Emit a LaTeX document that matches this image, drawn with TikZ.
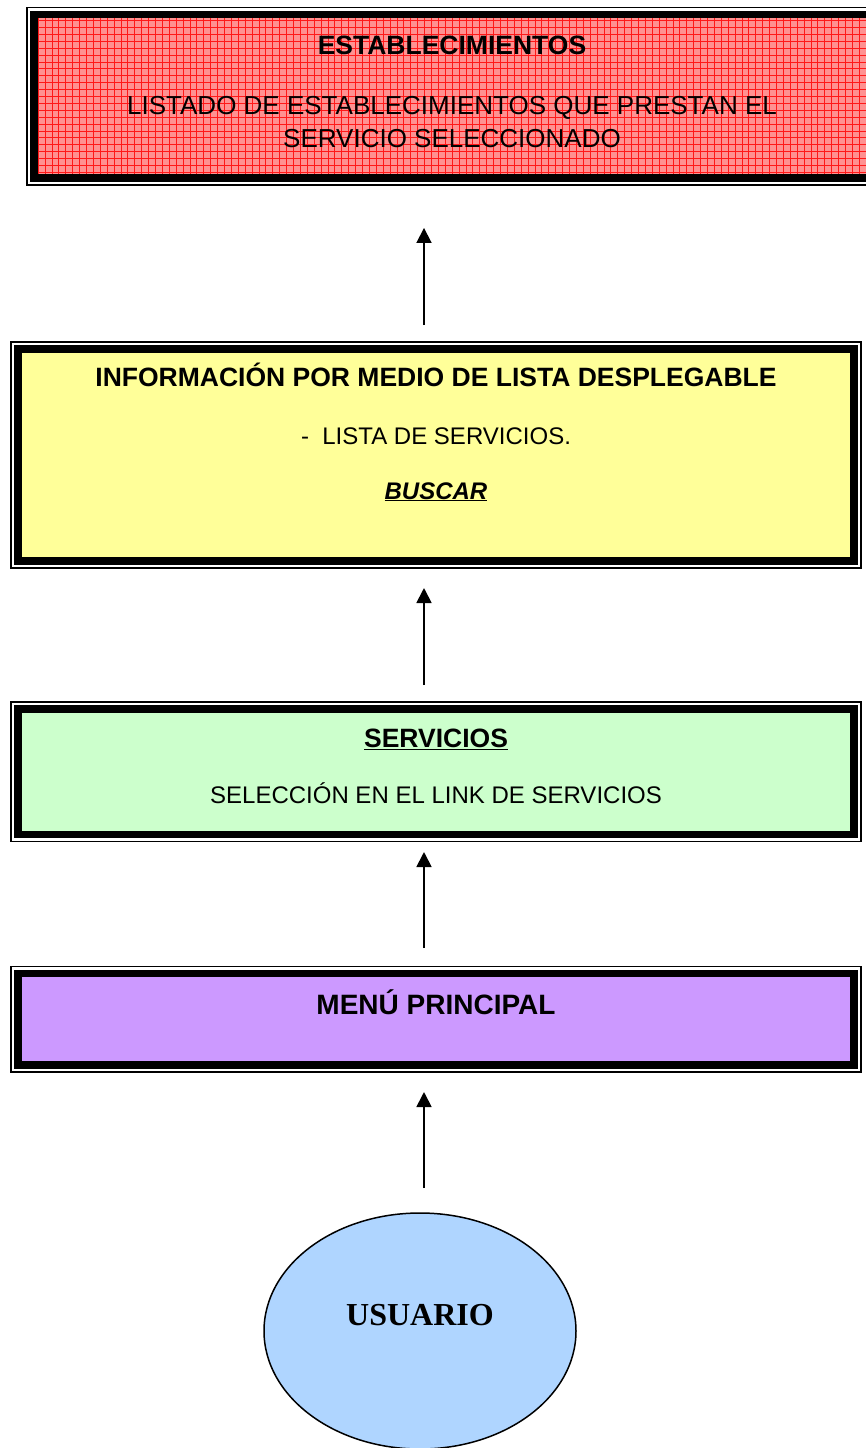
\documentclass[tikz,border=0pt]{standalone}
\usepackage{fontspec}
\setmainfont{Liberation Sans}
\newfontfamily\timesfont{Liberation Serif}
\usetikzlibrary{positioning,arrows.meta,shapes.geometric}
\definecolor{rojo}{RGB}{255,145,145}
\definecolor{amarillo}{RGB}{255,255,153}
\definecolor{verde}{RGB}{204,255,204}
\definecolor{lila}{RGB}{204,153,255}
\definecolor{celeste}{RGB}{175,213,255}
\tikzset{x=1pt, y=-1pt,
  caja/.style={draw, line width=7.5pt, outer sep=0pt, inner sep=0pt, minimum width=836pt},
  marco/.style={draw, line width=1.2pt},
  flecha/.style={-{Triangle[width=15pt,length=15pt]}, line width=1.8pt},
  txt/.style={anchor=base, inner sep=0pt, font=\fontsize{24}{28}\selectfont},
  tit/.style={anchor=base, inner sep=0pt, font=\fontsize{26.5}{30}\selectfont\bfseries}}

\begin{document}
\begin{tikzpicture}

  \clip (0,0) rectangle (866,1448);

  % cajas
  \node[caja, fill=rojo, minimum height=163.3pt,
        path picture={\draw[red!90!white, line width=0.5pt, step=6.9pt]
          (path picture bounding box.south west) grid (path picture bounding box.north east);}]
        (estab) at (452,96.3) {};
  \node[caja, fill=amarillo, minimum height=212pt] (info) at (436,455) {};
  \node[caja, fill=verde, minimum height=125.5pt] (serv) at (436,771.75) {};
  \node[caja, fill=lila, minimum height=91.5pt] (menu) at (436,1019.25) {};
  \node[ellipse, draw, line width=1.5pt, fill=celeste, outer sep=0pt,
        minimum width=312pt, minimum height=236pt,
        font=\timesfont\fontsize{32}{36}\selectfont\bfseries,
        text height=22pt, text depth=34pt] (usuario) at (420,1331) {USUARIO};

  \foreach \n in {estab,info,serv,menu}
    \draw[marco] ([shift={(-7,-7)}]\n.north west) rectangle ([shift={(7,7)}]\n.south east);

  % textos
  \node[tit] (estabT) at (452,54.5) {ESTABLECIMIENTOS};
  \node[txt, font=\fontsize{26}{30}\selectfont] (estabA) at (452,114.5) {LISTADO DE ESTABLECIMIENTOS QUE PRESTAN EL};
  \node[txt, font=\fontsize{26}{30}\selectfont] (estabB) at (452,147) {SERVICIO SELECCIONADO};

  \node[tit] (infoT) at (436,386.7) {INFORMACIÓN POR MEDIO DE LISTA DESPLEGABLE};
  \node[txt] (infoA) at (436,444) {-\ \ LISTA DE SERVICIOS.};
  \node[txt, font=\fontsize{24}{28}\selectfont\bfseries\itshape] (infoB) at (436,499) {\underline{BUSCAR}};

  \node[tit] (servT) at (436,747.7) {\underline{SERVICIOS}};
  \node[txt] (servA) at (436,803.3) {SELECCIÓN EN EL LINK DE SERVICIOS};

  \node[tit, font=\fontsize{28}{32}\selectfont\bfseries] (menuT) at (436,1014) {MENÚ PRINCIPAL};

  % flechas
  \coordinate (eje) at (424,0);
  \draw[flecha, shorten <=25pt, shorten >=27pt] (usuario.north -| eje) -- (menu.south -| eje);
  \draw[flecha, shorten <=25.5pt, shorten >=17.5pt] (menu.north -| eje) -- (serv.south -| eje);
  \draw[flecha, shorten <=24pt, shorten >=27pt] (serv.north -| eje) -- (info.south -| eje);
  \draw[flecha, shorten <=24pt, shorten >=50pt] (info.north -| eje) -- (estab.south -| eje);

\end{tikzpicture}
\end{document}
